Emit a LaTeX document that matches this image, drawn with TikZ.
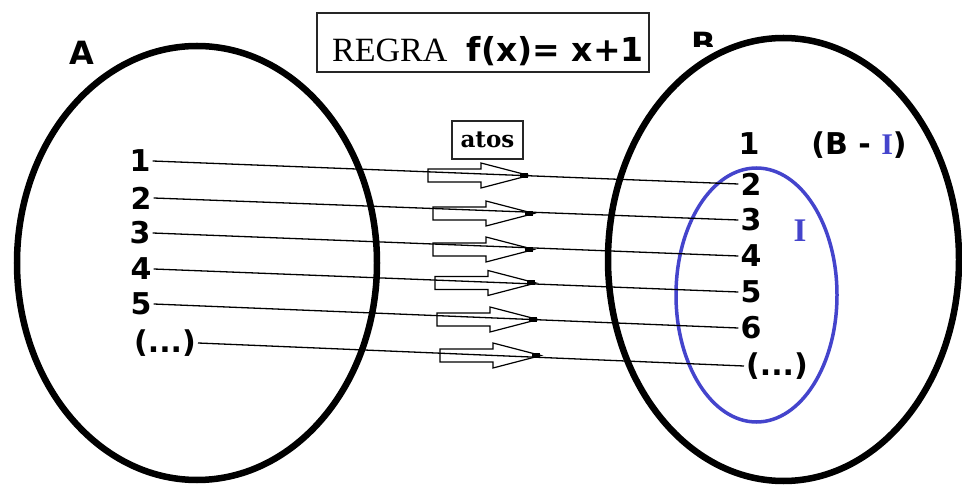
\documentclass[tikz,border=0pt]{standalone}
\usepackage{fontspec}
\setmainfont{DejaVu Sans}
\newfontfamily\serifR{Liberation Serif}
\newfontfamily\serifD{DejaVu Serif}
\definecolor{setblue}{RGB}{68,68,204}
\tikzset{
  setline/.style={line width=6.5pt, draw=black},
  subset/.style={line width=3.5pt, draw=setblue},
  lbl/.style={font=\bfseries\fontsize{30}{30}\selectfont, inner sep=2pt},
  setname/.style={font=\bfseries\fontsize{32}{32}\selectfont, inner sep=0pt},
  conn/.style={line width=1.3pt, draw=black},
  boxline/.style={line width=1.5pt, draw=black!85},
  blockarr/.pic={
    \draw[line width=1.2pt] (0,-6.5) -- (53,-6.5) -- (53,-12.5) -- (101,0) -- (53,12.5) -- (53,6.5) -- (0,6.5) -- cycle;
    \fill (92,-2.5) rectangle (100,2.5);
  }
}
\begin{document}
\begin{tikzpicture}[x=1pt,y=-1pt]
\useasboundingbox (0,0) rectangle (962,486);
\fill[white] (0,0) rectangle (962,486);

% sets
\draw[setline] (197,263) ellipse [x radius=180, y radius=217];
\draw[setline] (783.5,259.5) ellipse [x radius=175.5, y radius=221.5];
\draw[subset] (756.5,295) ellipse [x radius=80.5, y radius=127];

% set names
\node[setname] (A) at (82,53) {A};
\begin{scope}
  \clip (680,25) rectangle (730,47);
  \node[setname] (B) at (704,44) {B};
\end{scope}

% title box
\node[boxline, minimum width=332pt, minimum height=59pt, inner sep=0pt] (rule) at (483,42.5) {};
\node[anchor=base west, inner sep=0pt, font=\serifR\fontsize{34}{34}\selectfont] (regra) at (332,62) {REGRA};
\node[anchor=base east, inner sep=0pt, font=\bfseries\fontsize{33}{33}\selectfont] (fx) at (644,62) {f(x)= x+1};

% atos box
\node[boxline, minimum width=71pt, minimum height=38pt, inner sep=0pt, font=\serifD\bfseries\fontsize{23}{23}\selectfont] (atos) at (487.5,140) {atos};

% domain labels
\node[lbl] (L1) at (140,161) {1};
\node[lbl] (L2) at (141,198) {2};
\node[lbl] (L3) at (140,233) {3};
\node[lbl] (L4) at (141,269) {4};
\node[lbl] (L5) at (141,304) {5};
\node[lbl] (L6) at (165,343) {(...)};

% codomain labels
\node[lbl] (R1) at (749,144) {1};
\node[lbl] (R2) at (751,184) {2};
\node[lbl] (R3) at (751,220) {3};
\node[lbl] (R4) at (751,256) {4};
\node[lbl] (R5) at (751,292) {5};
\node[lbl] (R6) at (751,328) {6};
\node[lbl] (R7) at (777,366) {(...)};

\node[lbl] (BI) at (859,145) {(B - {\serifR\textcolor{setblue}{I}})};
\node[lbl, font=\serifR\bfseries\fontsize{33}{33}\selectfont, text=setblue] (I) at (800,231) {I};

% block arrows
\pic at (428,175.5) {blockarr};
\pic at (433,213.5) {blockarr};
\pic at (433,249.5) {blockarr};
\pic at (435,283) {blockarr};
\pic at (437,319.5) {blockarr};
\pic at (440,355.5) {blockarr};

% connectors
\draw[conn] (L1.east) -- (R2.west);
\draw[conn] (L2.east) -- (R3.west);
\draw[conn] (L3.east) -- (R4.west);
\draw[conn] (L4.east) -- (R5.west);
\draw[conn] (L5.east) -- (R6.west);
\draw[conn] (L6.east) -- (R7.west);
\end{tikzpicture}
\end{document}
